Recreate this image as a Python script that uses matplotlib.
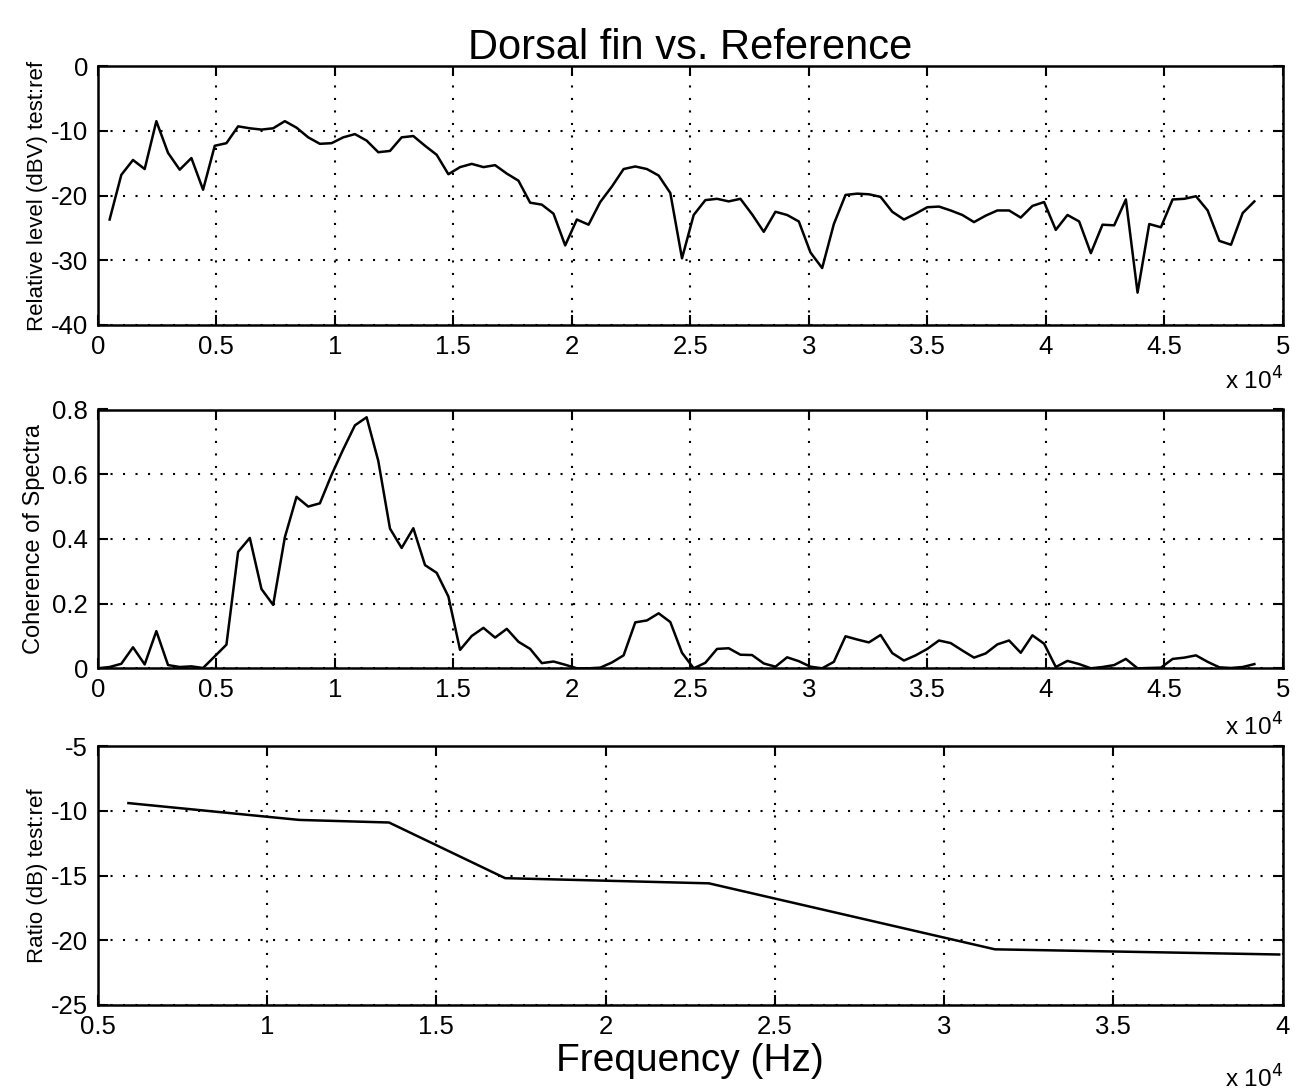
import numpy as np
import matplotlib
matplotlib.use('Agg')
import matplotlib.pyplot as plt

# spectrum bins are about 493 Hz apart
bin_hz = 493

# relative level, dB, bins 1..99
level_db = [-23.7, -16.8, -14.5, -15.9, -8.5, -13.4, -16.0, -14.2, -19.1, -12.3,
            -11.9, -9.3, -9.6, -9.8, -9.6, -8.5, -9.5, -11.0, -12.0, -11.9,
            -11.0, -10.5, -11.5, -13.3, -13.1, -11.0, -10.8, -12.3, -13.7, -16.7,
            -15.6, -15.1, -15.6, -15.3, -16.6, -17.7, -21.1, -21.4, -22.8, -27.7,
            -23.7, -24.5, -21.0, -18.6, -15.9, -15.5, -15.9, -16.9, -19.6, -29.7,
            -23.0, -20.7, -20.5, -20.9, -20.5, -22.9, -25.6, -22.5, -23.0, -24.0,
            -28.8, -31.2, -24.4, -19.9, -19.7, -19.8, -20.2, -22.5, -23.7, -22.8,
            -21.8, -21.7, -22.3, -23.0, -24.1, -23.1, -22.3, -22.3, -23.4, -21.6,
            -21.0, -25.3, -23.0, -24.0, -28.9, -24.5, -24.6, -20.6, -35.0, -24.4,
            -24.9, -20.6, -20.5, -20.1, -22.3, -27.0, -27.6, -22.7, -20.9]

# coherence, bins 0..99
coherence = [0.0, 0.004, 0.014, 0.065, 0.012, 0.115, 0.010, 0.004, 0.006, 0.001,
             0.037, 0.073, 0.360, 0.403, 0.245, 0.196, 0.405, 0.530, 0.500, 0.510,
             0.598, 0.677, 0.751, 0.776, 0.641, 0.432, 0.372, 0.433, 0.319, 0.295,
             0.222, 0.057, 0.100, 0.125, 0.095, 0.122, 0.082, 0.060, 0.016, 0.021,
             0.011, 0.0, 0.0, 0.002, 0.018, 0.040, 0.142, 0.148, 0.170, 0.143,
             0.048, 0.0, 0.017, 0.060, 0.062, 0.042, 0.041, 0.015, 0.005, 0.034,
             0.022, 0.005, 0.0, 0.020, 0.099, 0.089, 0.080, 0.103, 0.047, 0.024,
             0.040, 0.060, 0.086, 0.078, 0.055, 0.033, 0.046, 0.074, 0.086, 0.048,
             0.102, 0.076, 0.004, 0.023, 0.013, 0.0, 0.004, 0.010, 0.029, 0.0,
             0.001, 0.002, 0.029, 0.033, 0.040, 0.020, 0.003, 0.001, 0.004, 0.013]

# band ratio
ratio_freq = [5900, 10950, 13600, 17030, 23050, 31500, 39900]
ratio_db = [-9.4, -10.7, -10.9, -15.2, -15.6, -20.7, -21.1]

plt.rcParams['font.family'] = ['Liberation Sans', 'DejaVu Sans']
plt.rcParams['axes.unicode_minus'] = False

TICK_FS = 18.5
LABEL_FS = 16
DOTS = (0, (1, 5))


def style_axes(ax, xticks, xlabels, yticks, ylabels):
    ax.set_xticks(xticks)
    ax.set_xticklabels(xlabels)
    ax.set_yticks(yticks)
    ax.set_yticklabels(ylabels)
    ax.tick_params(direction='in', top=True, right=True, length=7, width=1.5,
                   labelsize=TICK_FS, pad=7)
    ax.grid(True, color='black', linestyle=DOTS, linewidth=1.5)
    for s in ax.spines.values():
        s.set_linewidth(1.8)


def exponent_label(ax, y):
    ax.text(1.0, y, r'x 10$^4$', transform=ax.transAxes, ha='right', va='top',
            fontsize=17.5)


def main():
    fig = plt.figure(figsize=(12.99, 10.92), dpi=100)
    left, width, h = 0.0754, 0.912, 0.237

    f_level = bin_hz * np.arange(1, len(level_db) + 1)
    f_coh = bin_hz * np.arange(len(coherence))
    ticks5 = np.arange(0, 5.01e4, 0.5e4)
    labels5 = ['0', '0.5', '1', '1.5', '2', '2.5', '3', '3.5', '4', '4.5', '5']

    ax1 = fig.add_axes([left, 0.7024, width, h])
    ax1.plot(f_level, level_db, color='black', linewidth=1.8)
    ax1.set_xlim(0, 5e4)
    ax1.set_ylim(-40, 0)
    style_axes(ax1, ticks5, labels5, [-40, -30, -20, -10, 0],
               ['-40', '-30', '-20', '-10', '0'])
    ax1.set_ylabel('Relative level (dBV) test:ref', fontsize=LABEL_FS, labelpad=2)
    ax1.set_title('Dorsal fin vs. Reference', fontsize=30, pad=5)
    exponent_label(ax1, -0.165)

    ax2 = fig.add_axes([left, 0.388, width, h])
    ax2.plot(f_coh, coherence, color='black', linewidth=1.8)
    ax2.set_xlim(0, 5e4)
    ax2.set_ylim(0, 0.8)
    style_axes(ax2, ticks5, labels5, [0, 0.2, 0.4, 0.6, 0.8],
               ['0', '0.2', '0.4', '0.6', '0.8'])
    ax2.set_ylabel('Coherence of Spectra', fontsize=LABEL_FS + 1, labelpad=5)
    exponent_label(ax2, -0.175)

    ax3 = fig.add_axes([left, 0.0797, width, h])
    ax3.plot(ratio_freq, ratio_db, color='black', linewidth=1.8)
    ax3.set_xlim(0.5e4, 4e4)
    ax3.set_ylim(-25, -5)
    style_axes(ax3, np.arange(0.5e4, 4.01e4, 0.5e4),
               ['0.5', '1', '1.5', '2', '2.5', '3', '3.5', '4'],
               [-25, -20, -15, -10, -5], ['-25', '-20', '-15', '-10', '-5'])
    ax3.set_ylabel('Ratio (dB) test:ref', fontsize=LABEL_FS, labelpad=2)
    ax3.set_xlabel('Frequency (Hz)', fontsize=28, labelpad=3)
    exponent_label(ax3, -0.235)

    fig.savefig('out.png', dpi=100)


if __name__ == '__main__':
    main()
